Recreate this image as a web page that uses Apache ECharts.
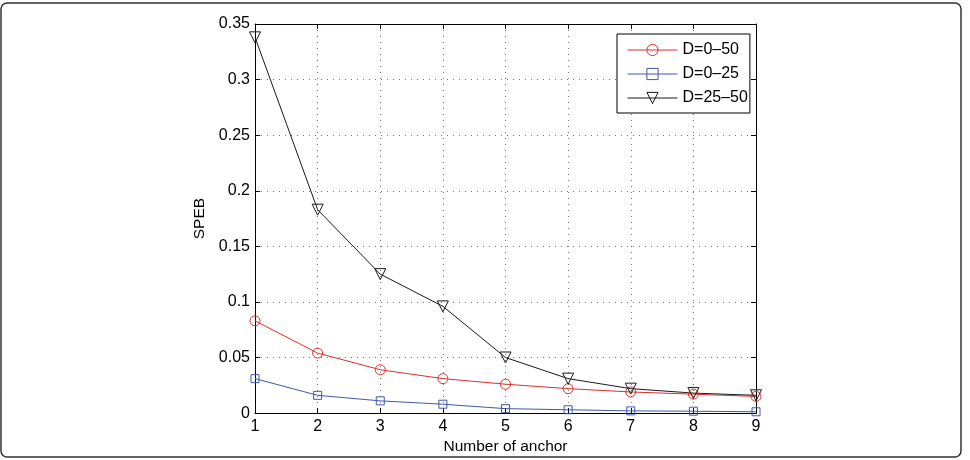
<!DOCTYPE html>
<html>
<head>
  <meta charset="utf-8">
  <title>SPEB vs anchors</title>
  <script src="https://cdn.jsdelivr.net/npm/echarts@6/dist/echarts.min.js"></script>
  <style>
    html, body { margin: 0; padding: 0; background: #fff; }
  </style>
</head>
<body>
  <div id="main" style="width: 970px; height: 460px;"></div>

  <script>
    // values
    const anchors = [1, 2, 3, 4, 5, 6, 7, 8, 9];
    const d0to50 = [0.083, 0.054, 0.039, 0.031, 0.026, 0.022, 0.019, 0.017, 0.015];
    const d0to25 = [0.031, 0.016, 0.011, 0.008, 0.004, 0.003, 0.002, 0.0017, 0.0012];
    const d25to50 = [0.338, 0.183, 0.125, 0.096, 0.050, 0.031, 0.022, 0.018, 0.016];

    const font = 'Liberation Sans, Arial, Helvetica, sans-serif';
    const pairs = ys => anchors.map((x, i) => [x, ys[i]]);

    function lineSeries(name, ys, color, symbol, size, rotate) {
      return {
        name: name,
        type: 'line',
        data: pairs(ys),
        symbol: symbol,
        symbolSize: size,
        symbolRotate: rotate || 0,
        showAllSymbol: true,
        lineStyle: { color: color, width: 1 },
        itemStyle: { color: 'rgba(0,0,0,0)', borderColor: color, borderWidth: 1 },
        emphasis: { disabled: true },
        z: 3
      };
    }

    const chart = echarts.init(document.getElementById('main'));
    const option = {
      animation: false,
      textStyle: { fontFamily: font },
      graphic: [{
        type: 'rect',
        shape: { x: 1, y: 3, width: 960, height: 454, r: 6 },
        style: { fill: 'none', stroke: '#333', lineWidth: 1.5 },
        silent: true
      }],
      grid: { left: 255, right: 214, top: 24, bottom: 40 },
      legend: {
        orient: 'vertical',
        left: 617,
        top: 34,
        padding: [8, 2, 7, 10],
        itemWidth: 50,
        itemHeight: 14,
        itemGap: 8,
        backgroundColor: '#fff',
        borderColor: '#000',
        borderWidth: 1,
        lineStyle: { width: 1 },
        itemStyle: { borderWidth: 1 },
        textStyle: { fontFamily: font, fontSize: 16, color: '#000' },
        data: ['D=0\u201350', 'D=0\u201325', 'D=25\u201350']
      },
      xAxis: [{
        type: 'value',
        min: 1, max: 9, interval: 1,
        name: 'Number of anchor',
        nameLocation: 'middle',
        nameGap: 18,
        nameTextStyle: { fontFamily: font, fontSize: 15.5, color: '#000' },
        axisLine: { onZero: false, lineStyle: { color: '#000', width: 1 } },
        axisTick: { inside: true, length: 5, lineStyle: { color: '#000' } },
        axisLabel: { margin: 5, fontFamily: font, fontSize: 16, color: '#000' },
        splitLine: { show: true, lineStyle: { color: '#777', type: [1, 5] } }
      }, {
        type: 'value',
        position: 'top',
        min: 1, max: 9, interval: 1,
        axisLine: { onZero: false, lineStyle: { color: '#000', width: 1 } },
        axisTick: { inside: true, length: 5, lineStyle: { color: '#000' } },
        axisLabel: { show: false },
        splitLine: { show: false }
      }],
      yAxis: [{
        type: 'value',
        min: 0, max: 0.35, interval: 0.05,
        name: 'SPEB',
        nameLocation: 'middle',
        nameGap: 44,
        nameTextStyle: { fontFamily: font, fontSize: 15.5, color: '#000' },
        axisLine: { show: true, onZero: false, lineStyle: { color: '#000', width: 1 } },
        axisTick: { show: true, inside: true, length: 5, lineStyle: { color: '#000' } },
        axisLabel: { margin: 5, fontFamily: font, fontSize: 16, color: '#000' },
        splitLine: { show: true, lineStyle: { color: '#777', type: [1, 5] } }
      }, {
        type: 'value',
        position: 'right',
        min: 0, max: 0.35, interval: 0.05,
        axisLine: { show: true, onZero: false, lineStyle: { color: '#000', width: 1 } },
        axisTick: { show: true, inside: true, length: 5, lineStyle: { color: '#000' } },
        axisLabel: { show: false },
        splitLine: { show: false }
      }],
      series: [
        lineSeries('D=0\u201350', d0to50, '#d8302a', 'circle', 10),
        lineSeries('D=0\u201325', d0to25, '#4158ad', 'rect', 8),
        lineSeries('D=25\u201350', d25to50, '#1a1a1a', 'triangle', 11, 180)
      ]
    };
    chart.setOption(option);
  </script>
</body>
</html>
